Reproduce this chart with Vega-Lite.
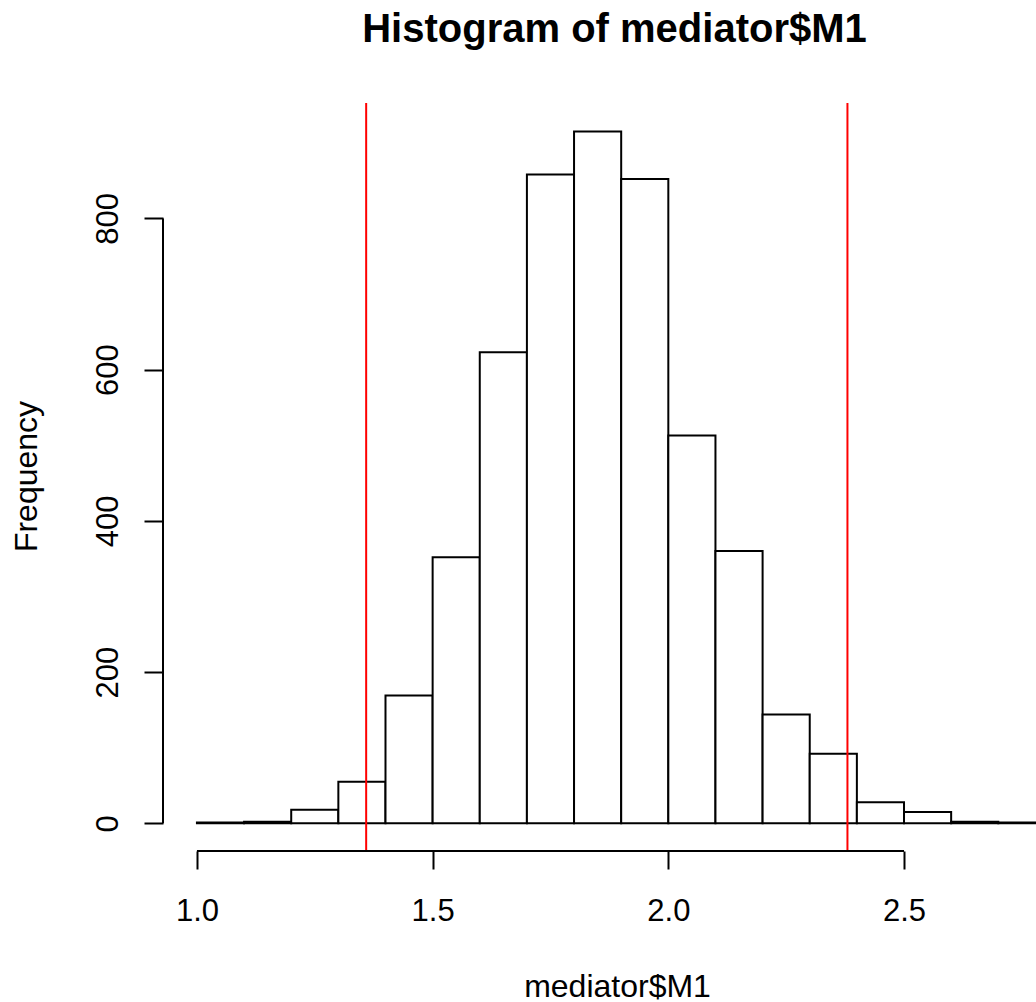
{
  "$schema": "https://vega.github.io/schema/vega-lite/v6.json",
  "width": 873,
  "height": 748,
  "autosize": {"type": "none"},
  "padding": {"left": 163, "top": 103, "right": 0, "bottom": 151},
  "background": "white",
  "title": {"text": "Histogram of mediator$M1", "font": "Liberation Sans", "fontSize": 40, "fontWeight": "bold", "color": "black", "anchor": "middle", "dx": 15, "baseline": "alphabetic", "offset": 20},
  "config": {"view": {"stroke": null}, "font": "Liberation Sans"},
  "layer": [
    {
      "data": {"values": [
        {"bin_start": 1.0, "bin_end": 1.1, "count": 1},
        {"bin_start": 1.1, "bin_end": 1.2, "count": 2},
        {"bin_start": 1.2, "bin_end": 1.3, "count": 18},
        {"bin_start": 1.3, "bin_end": 1.4, "count": 55},
        {"bin_start": 1.4, "bin_end": 1.5, "count": 169},
        {"bin_start": 1.5, "bin_end": 1.6, "count": 352},
        {"bin_start": 1.6, "bin_end": 1.7, "count": 623},
        {"bin_start": 1.7, "bin_end": 1.8, "count": 858},
        {"bin_start": 1.8, "bin_end": 1.9, "count": 915},
        {"bin_start": 1.9, "bin_end": 2.0, "count": 852},
        {"bin_start": 2.0, "bin_end": 2.1, "count": 513},
        {"bin_start": 2.1, "bin_end": 2.2, "count": 360},
        {"bin_start": 2.2, "bin_end": 2.3, "count": 144},
        {"bin_start": 2.3, "bin_end": 2.4, "count": 92},
        {"bin_start": 2.4, "bin_end": 2.5, "count": 28},
        {"bin_start": 2.5, "bin_end": 2.6, "count": 15},
        {"bin_start": 2.6, "bin_end": 2.7, "count": 2},
        {"bin_start": 2.7, "bin_end": 2.8, "count": 1}
      ]},
      "mark": {"type": "rect", "fill": "white", "stroke": "black", "strokeWidth": 2, "clip": true},
      "encoding": {
        "x": {
          "field": "bin_start", "type": "quantitative", "title": "mediator$M1",
          "scale": {"domain": [0.928, 2.78], "nice": false, "zero": false},
          "axis": {
            "title": "mediator$M1", "values": [1, 1.5, 2, 2.5], "format": ".1f",
            "domain": false, "grid": false, "ticks": true, "tickSize": 18, "tickWidth": 2, "tickColor": "black",
            "labelFont": "Liberation Sans", "labelFontSize": 31, "labelColor": "black",
            "labelPadding": 51, "labelBaseline": "alphabetic", "labelAlign": "center",
            "labelFlush": false, "labelOverlap": false,
            "titleFont": "Liberation Sans", "titleFontSize": 32, "titleFontWeight": "normal", "titleColor": "black",
            "titleX": 454, "titleY": 145, "titleBaseline": "alphabetic", "titleAlign": "center"
          }
        },
        "x2": {"field": "bin_end"},
        "y": {
          "field": "count", "type": "quantitative", "title": "Frequency",
          "scale": {"domain": [-36.6, 952.6], "nice": false, "zero": false},
          "axis": {
            "title": "Frequency", "values": [0, 200, 400, 600, 800], "format": "d",
            "domain": false, "grid": false, "ticks": true, "tickSize": 19, "tickWidth": 2, "tickColor": "black",
            "labelFont": "Liberation Sans", "labelFontSize": 31, "labelColor": "black",
            "labelAngle": 270, "labelAlign": "center", "labelBaseline": "alphabetic", "labelPadding": 27,
            "labelFlush": false, "labelOverlap": false,
            "titleFont": "Liberation Sans", "titleFontSize": 32, "titleFontWeight": "normal", "titleColor": "black",
            "titleAngle": 270, "titleX": -127, "titleY": 373, "titleBaseline": "alphabetic", "titleAlign": "center"
          }
        },
        "y2": {"datum": 0}
      }
    },
    {
      "data": {"values": [{"q": 1.359}, {"q": 2.38}]},
      "mark": {"type": "rule", "color": "#FF0000", "strokeWidth": 2},
      "encoding": {"x": {"field": "q", "type": "quantitative", "title": "mediator$M1"}}
    },
    {
      "data": {"values": [{}]},
      "mark": {"type": "rule", "color": "black", "strokeWidth": 2},
      "encoding": {
        "x": {"datum": 1, "type": "quantitative", "title": "mediator$M1"},
        "x2": {"datum": 2.5},
        "y": {"datum": -36.6, "type": "quantitative", "title": "Frequency"}
      }
    },
    {
      "data": {"values": [{}]},
      "mark": {"type": "rule", "color": "black", "strokeWidth": 2},
      "encoding": {
        "x": {"datum": 0.928, "type": "quantitative", "title": "mediator$M1"},
        "y": {"datum": 0, "type": "quantitative", "title": "Frequency"},
        "y2": {"datum": 800}
      }
    }
  ]
}
